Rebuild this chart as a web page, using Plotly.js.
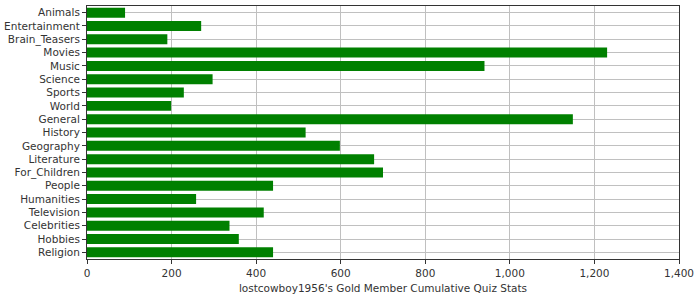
<!DOCTYPE html>
<html>
<head>
<meta charset="utf-8">
<script src="https://cdn.plot.ly/plotly-3.0.1.min.js"></script>
<style>html,body{margin:0;padding:0;background:#fff;}#chart{width:700px;height:300px;}</style>
</head>
<body>
<div id="chart"></div>
<script>
const categories = ["Animals","Entertainment","Brain_Teasers","Movies","Music","Science","Sports","World","General","History","Geography","Literature","For_Children","People","Humanities","Television","Celebrities","Hobbies","Religion"];
const values = [90,270,190,1230,940,297,229,199,1149,517,598,679,700,440,258,418,337,359,440];
const xTickVals = [0,200,400,600,800,1000,1200,1400];
const xTickText = ["0","200","400","600","800","1,000","1,200","1,400"];
const axisTitle = "lostcowboy1956's Gold Member Cumulative Quiz Stats";

const trace = {
  type: 'bar', orientation: 'h',
  x: values, y: categories,
  marker: {color: '#008000', line: {width: 0}},
  hoverinfo: 'x+y'
};
const layout = {
  width: 700, height: 300,
  margin: {l: 87, r: 21, t: 6, b: 41},
  paper_bgcolor: '#fff', plot_bgcolor: '#fff',
  font: {family: 'DejaVu Sans, sans-serif', size: 10.5, color: '#333'},
  bargap: 0.25,
  showlegend: false,
  xaxis: {
    range: [0, 1400], tickvals: xTickVals, ticktext: xTickText,
    showgrid: true, gridcolor: '#c0c0c0', gridwidth: 1,
    zeroline: false,
    showline: true, linecolor: '#333', linewidth: 1, mirror: true,
    ticks: 'outside', ticklen: 4, tickcolor: '#333',
    title: {text: axisTitle, standoff: 7, font: {size: 10.5, color: '#333'}}
  },
  yaxis: {
    type: 'category', categoryorder: 'array', categoryarray: categories,
    autorange: 'reversed',
    showgrid: true, gridcolor: '#c0c0c0', gridwidth: 1,
    showline: true, linecolor: '#333', linewidth: 1, mirror: true,
    ticks: 'outside', ticklen: 4, tickcolor: '#333'
  }
};
Plotly.newPlot('chart', [trace], layout, {displayModeBar: false, staticPlot: true});
</script>
</body>
</html>
